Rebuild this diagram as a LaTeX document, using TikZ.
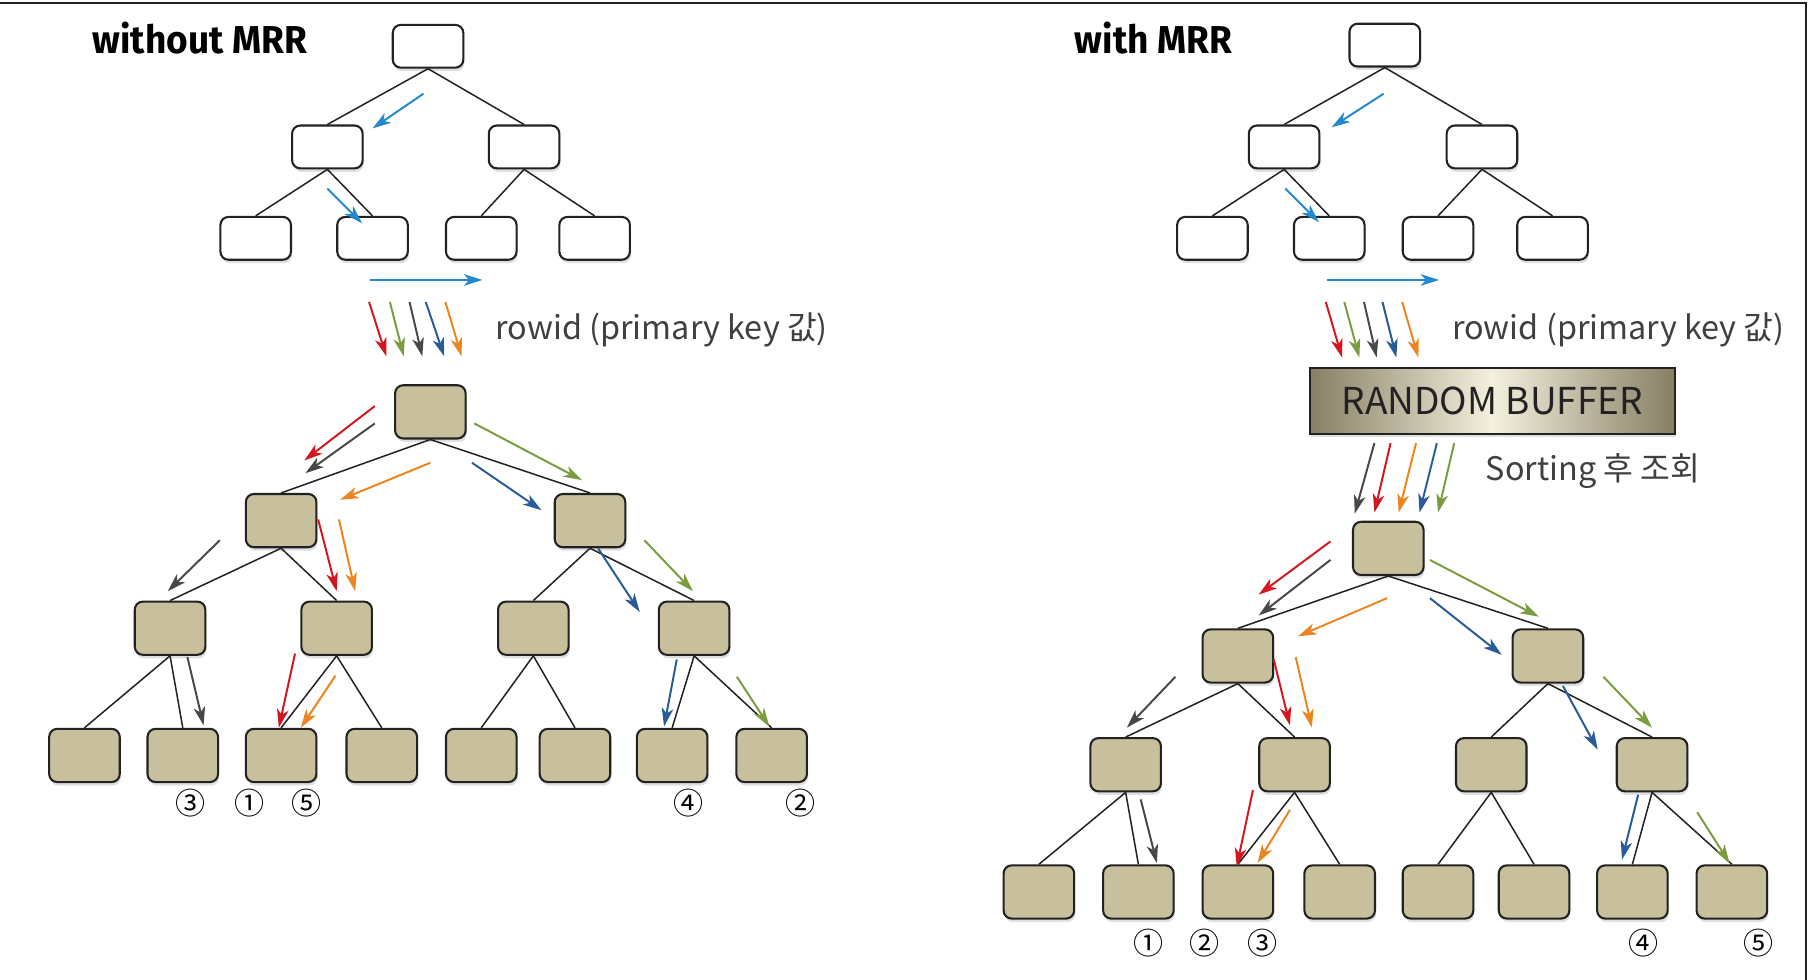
\documentclass[tikz,border=0pt]{standalone}
\usepackage{fontspec}
\setmainfont{Noto Sans CJK KR}
\newfontfamily\titlefont{Fira Sans}
\newfontfamily\krfont{Noto Sans CJK KR}
\usetikzlibrary{arrows.meta,shadows}
\definecolor{tanfill}{RGB}{200,191,157}
\definecolor{edgec}{RGB}{34,34,34}
\definecolor{ablue}{RGB}{36,136,206}
\definecolor{ared}{RGB}{212,22,32}
\definecolor{agreen}{RGB}{122,156,62}
\definecolor{agray}{RGB}{72,72,72}
\definecolor{adblue}{RGB}{40,92,152}
\definecolor{aorange}{RGB}{236,132,32}
\definecolor{bufdark}{RGB}{135,127,100}
\definecolor{buflight}{RGB}{244,240,222}
\tikzset{
  wbox/.style={draw=edgec, line width=1.8pt, fill=white, rounded corners=7pt,
    minimum width=61pt, minimum height=37pt, inner sep=0pt,
    drop shadow={shadow xshift=1pt, shadow yshift=-3pt, opacity=0.25}},
  tbox/.style={draw=edgec, line width=1.8pt, fill=tanfill, rounded corners=7pt,
    minimum width=61pt, minimum height=46pt, inner sep=0pt,
    drop shadow={shadow xshift=1pt, shadow yshift=-3pt, opacity=0.25}},
  link/.style={draw=edgec, line width=1.3pt},
  arr/.style={line width=1.7pt, -{Stealth[length=16pt,width=10pt,inset=4.5pt]}},
  titletext/.style={anchor=west, inner sep=0pt, font=\fontsize{32}{36}\selectfont},
  labtext/.style={anchor=west, inner sep=0pt, text=black!75, font=\fontsize{28}{32}\selectfont},
  numtext/.style={inner sep=0pt, font=\fontsize{26}{28}\selectfont},
  frameline/.style={draw=edgec, line width=2.2pt}
}
\begin{document}
\begin{tikzpicture}[x=1pt,y=-1pt]
\useasboundingbox (0,0) rectangle (1568,847);
% frame
\coordinate (fA) at (0,2.5);
\coordinate (fB) at (1561,2.5);
\coordinate (fC) at (1561,847);
\draw[frameline] (fA) -- (fB) -- (fC);

% titles
\node[titletext] (t1) at (80,33) {\scalebox{1.0}[1.05]{\titlefont\bfseries without MRR}};
\node[titletext] (t2) at (929,33) {\scalebox{1.0}[1.05]{\titlefont\bfseries with MRR}};

% ===== LEFT: white tree
\node[wbox] (LW) at (370,40) {};
\node[wbox] (LWa) at (283,127) {};
\node[wbox] (LWb) at (453,127) {};
\node[wbox] (LWa1) at (221,206) {};
\node[wbox] (LWa2) at (322,206) {};
\node[wbox] (LWb1) at (416,206) {};
\node[wbox] (LWb2) at (514,206) {};
\draw[link] (LW.south) -- (LWa.north);
\draw[link] (LW.south) -- (LWb.north);
\draw[link] (LWa.south) -- (LWa1.north);
\draw[link] (LWa.south) -- (LWa2.north);
\draw[link] (LWb.south) -- (LWb1.north);
\draw[link] (LWb.south) -- (LWb2.north);
\draw[arr,ablue] (366,81) -- (322,111);
\draw[arr,ablue] (283,163) -- (313,193);
\draw[arr,ablue] (320,242) -- (417,242);

% rowid arrows left
\draw[arr,ared] (319,261) -- (334,308);
\draw[arr,agreen] (337,261) -- (349,308);
\draw[arr,agray] (354,261) -- (365,308);
\draw[arr,adblue] (368,261) -- (384,308);
\draw[arr,aorange] (385,261) -- (399,308);
\node[labtext] (rl) at (428,285) {rowid (primary key 값)};

% ===== LEFT: tan tree
\node[tbox] (LT) at (372,356) {};
\node[tbox] (LTa) at (243,450) {};
\node[tbox] (LTb) at (510,450) {};
\node[tbox] (LTa1) at (147,543) {};
\node[tbox] (LTa2) at (291,543) {};
\node[tbox] (LTb1) at (461,543) {};
\node[tbox] (LTb2) at (600,543) {};
\node[tbox] (Lf1) at (73,653) {};
\node[tbox] (Lf2) at (158,653) {};
\node[tbox] (Lf3) at (243,653) {};
\node[tbox] (Lf4) at (330,653) {};
\node[tbox] (Lf5) at (416,653) {};
\node[tbox] (Lf6) at (497,653) {};
\node[tbox] (Lf7) at (581,653) {};
\node[tbox] (Lf8) at (667,653) {};
\draw[link] (LT.south) -- (LTa.north);
\draw[link] (LT.south) -- (LTb.north);
\draw[link] (LTa.south) -- (LTa1.north);
\draw[link] (LTa.south) -- (LTa2.north);
\draw[link] (LTb.south) -- (LTb1.north);
\draw[link] (LTb.south) -- (LTb2.north);
\draw[link] (LTa1.south) -- (Lf1.north);
\draw[link] (LTa1.south) -- (Lf2.north);
\draw[link] (LTa2.south) -- (Lf3.north);
\draw[link] (LTa2.south) -- (Lf4.north);
\draw[link] (LTb1.south) -- (Lf5.north);
\draw[link] (LTb1.south) -- (Lf6.north);
\draw[link] (LTb2.south) -- (Lf7.north);
\draw[link] (LTb2.south) -- (Lf8.north);
\draw[arr,ared] (324,351) -- (263,398);
\draw[arr,agray] (324,366) -- (264,409);
\draw[arr,aorange] (372,400) -- (294,432);
\draw[arr,agreen] (410,366) -- (503,415);
\draw[arr,adblue] (408,400) -- (468,441);
\draw[arr,agray] (190,467) -- (145,511);
\draw[arr,ared] (275,449) -- (291,511);
\draw[arr,aorange] (293,449) -- (307,511);
\draw[arr,adblue] (517,474) -- (553,529);
\draw[arr,agreen] (557,467) -- (599,511);
\draw[arr,agray] (162,568) -- (176,627);
\draw[arr,ared] (255,565) -- (241,629);
\draw[arr,aorange] (290,584) -- (260,629);
\draw[arr,adblue] (585,570) -- (574,628);
\draw[arr,agreen] (637,585) -- (665,628);
\node[numtext] (ln3) at (165,694) {③};
\node[numtext] (ln1) at (216,694) {①};
\node[numtext] (ln5) at (265,694) {⑤};
\node[numtext] (ln4) at (595,694) {④};
\node[numtext] (ln2) at (692,694) {②};

% ===== RIGHT: white tree
\node[wbox] (RW) at (1197,39) {};
\node[wbox] (RWa) at (1110,127) {};
\node[wbox] (RWb) at (1281,127) {};
\node[wbox] (RWa1) at (1048,206) {};
\node[wbox] (RWa2) at (1149,206) {};
\node[wbox] (RWb1) at (1243,206) {};
\node[wbox] (RWb2) at (1342,206) {};
\draw[link] (RW.south) -- (RWa.north);
\draw[link] (RW.south) -- (RWb.north);
\draw[link] (RWa.south) -- (RWa1.north);
\draw[link] (RWa.south) -- (RWa2.north);
\draw[link] (RWb.south) -- (RWb1.north);
\draw[link] (RWb.south) -- (RWb2.north);
\draw[arr,ablue] (1196,81) -- (1151,110);
\draw[arr,ablue] (1111,163) -- (1140,192);
\draw[arr,ablue] (1147,242) -- (1244,242);

% rowid arrows right
\draw[arr,ared] (1146,261) -- (1160,309);
\draw[arr,agreen] (1162,261) -- (1175,309);
\draw[arr,agray] (1179,261) -- (1190,309);
\draw[arr,adblue] (1195,261) -- (1207,309);
\draw[arr,aorange] (1212,261) -- (1226,309);
\node[labtext] (rr) at (1255,285) {rowid (primary key 값)};

% random buffer
\node[draw=edgec, line width=1.6pt, minimum width=316pt, minimum height=57pt,
  left color=bufdark, right color=bufdark, middle color=buflight,
  drop shadow={shadow xshift=1pt, shadow yshift=-3pt, opacity=0.25},
  font=\fontsize{32}{36}\selectfont, text=edgec] (buf) at (1290,346.5) {RANDOM BUFFER};

% sorting arrows
\draw[arr,agray] (1188,383) -- (1171,444);
\draw[arr,ared] (1202,383) -- (1188,443);
\draw[arr,aorange] (1224,383) -- (1209,443);
\draw[arr,adblue] (1242,383) -- (1227,443);
\draw[arr,agreen] (1257,383) -- (1243,443);
\node[labtext] (srt) at (1284,407) {Sorting 후 조회};

% ===== RIGHT: tan tree
\node[tbox] (RT) at (1200,474) {};
\node[tbox] (RTa) at (1070,567) {};
\node[tbox] (RTb) at (1338,567) {};
\node[tbox] (RTa1) at (973,661) {};
\node[tbox] (RTa2) at (1119,661) {};
\node[tbox] (RTb1) at (1289,661) {};
\node[tbox] (RTb2) at (1428,661) {};
\node[tbox] (Rf1) at (898,771) {};
\node[tbox] (Rf2) at (984,771) {};
\node[tbox] (Rf3) at (1070,771) {};
\node[tbox] (Rf4) at (1158,771) {};
\node[tbox] (Rf5) at (1243,771) {};
\node[tbox] (Rf6) at (1326,771) {};
\node[tbox] (Rf7) at (1411,771) {};
\node[tbox] (Rf8) at (1497,771) {};
\draw[link] (RT.south) -- (RTa.north);
\draw[link] (RT.south) -- (RTb.north);
\draw[link] (RTa.south) -- (RTa1.north);
\draw[link] (RTa.south) -- (RTa2.north);
\draw[link] (RTb.south) -- (RTb1.north);
\draw[link] (RTb.south) -- (RTb2.north);
\draw[link] (RTa1.south) -- (Rf1.north);
\draw[link] (RTa1.south) -- (Rf2.north);
\draw[link] (RTa2.south) -- (Rf3.north);
\draw[link] (RTa2.south) -- (Rf4.north);
\draw[link] (RTb1.south) -- (Rf5.north);
\draw[link] (RTb1.south) -- (Rf6.north);
\draw[link] (RTb2.south) -- (Rf7.north);
\draw[link] (RTb2.south) -- (Rf8.north);
\draw[arr,ared] (1150,468) -- (1088,514);
\draw[arr,agray] (1150,484) -- (1088,532);
\draw[arr,aorange] (1199,517) -- (1122,550);
\draw[arr,agreen] (1236,484) -- (1330,533);
\draw[arr,adblue] (1236,517) -- (1298,566);
\draw[arr,agray] (1016,585) -- (974,629);
\draw[arr,ared] (1101,570) -- (1115,627);
\draw[arr,aorange] (1120,568) -- (1134,629);
\draw[arr,adblue] (1351,593) -- (1381,648);
\draw[arr,agreen] (1386,585) -- (1428,629);
\draw[arr,agray] (986,691) -- (1000,746);
\draw[arr,ared] (1083,683) -- (1069,749);
\draw[arr,aorange] (1115,700) -- (1087,746);
\draw[arr,adblue] (1416,687) -- (1402,743);
\draw[arr,agreen] (1467,702) -- (1495,746);
\node[numtext] (rn1) at (993,815) {①};
\node[numtext] (rn2) at (1041,815) {②};
\node[numtext] (rn3) at (1091,815) {③};
\node[numtext] (rn4) at (1421,815) {④};
\node[numtext] (rn5) at (1520,815) {⑤};
\end{tikzpicture}
\end{document}
